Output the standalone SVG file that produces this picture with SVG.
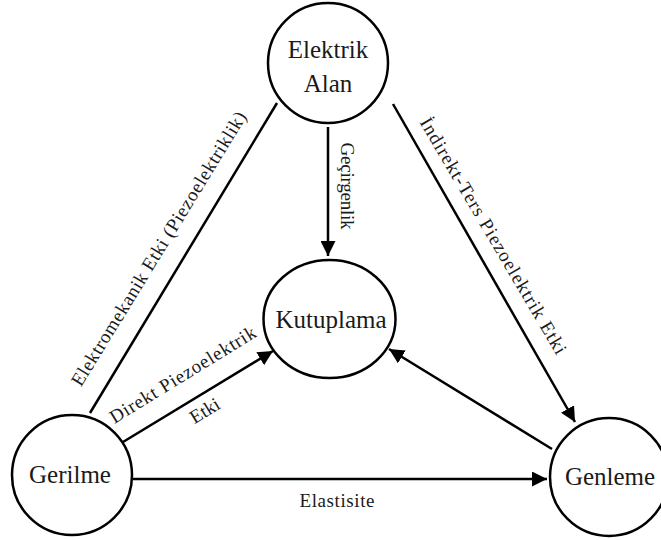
<svg xmlns="http://www.w3.org/2000/svg" width="661" height="540" viewBox="0 0 661 540">
<style>
.node{fill:#fff;stroke:#000;stroke-width:2.5}
.edge{stroke:#000;stroke-width:2.5;fill:none}
.lbl{font-family:'Liberation Serif','DejaVu Serif',serif;fill:#1a1a1a;text-anchor:middle}
</style>
<defs>
<marker id="arr" viewBox="0 0 10 10" refX="10" refY="5" markerWidth="6" markerHeight="6" markerUnits="strokeWidth" orient="auto">
<path d="M0,0 L10,5 L0,10 z" fill="#000"/>
</marker>
</defs>
<rect width="661" height="540" fill="#fff"/>
<g id="connectors">
<line class="edge" x1="90" y1="413" x2="277" y2="103"/>
<line class="edge" x1="393" y1="104" x2="575" y2="422" marker-end="url(#arr)"/>
<line class="edge" x1="328" y1="127" x2="328" y2="256" marker-end="url(#arr)"/>
<line class="edge" x1="123" y1="442" x2="273" y2="351" marker-end="url(#arr)"/>
<line class="edge" x1="552" y1="449" x2="389" y2="349" marker-end="url(#arr)"/>
<line class="edge" x1="133" y1="479" x2="547" y2="479" marker-end="url(#arr)"/>
<g class="lbl" font-size="19">
<text transform="translate(164,252) rotate(-58.5)" textLength="318" lengthAdjust="spacing">Elektromekanik Etki (Piezoelektriklik)</text>
<text transform="translate(488,239) rotate(59.5)" textLength="271" lengthAdjust="spacing">İndirekt-Ters Piezoelektrik Etki</text>
<text transform="translate(341,186) rotate(90)" textLength="87" lengthAdjust="spacing">Geçirgenlik</text>
<text transform="translate(186,380) rotate(-31.5)" textLength="168" lengthAdjust="spacing">Direkt Piezoelektrik</text>
<text transform="translate(208,416) rotate(-31.5)">Etki</text>
<text x="337" y="507" textLength="75" lengthAdjust="spacing">Elastisite</text>
</g>
</g>
<g class="lbl" font-size="25">
<g id="elektrik-alan">
<circle class="node" cx="328" cy="63" r="60"/>
<text x="328" y="58">Elektrik</text>
<text x="328" y="92">Alan</text>
</g>
<g id="kutuplama">
<ellipse class="node" cx="329.5" cy="319" rx="66" ry="59"/>
<text x="331" y="328">Kutuplama</text>
</g>
<g id="gerilme">
<circle class="node" cx="72" cy="475" r="60"/>
<text x="70" y="483">Gerilme</text>
</g>
<g id="genleme">
<circle class="node" cx="609" cy="477" r="59"/>
<text x="610" y="485">Genleme</text>
</g>
</g>
</svg>
